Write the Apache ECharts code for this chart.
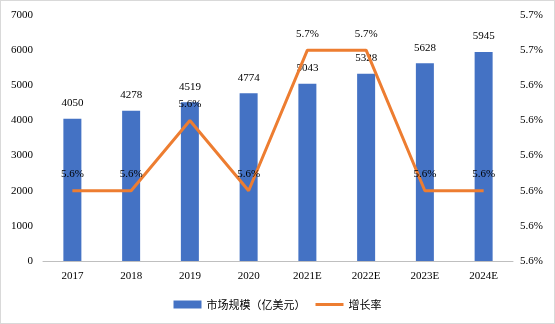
<!DOCTYPE html>
<html>
<head>
<meta charset="utf-8">
<script src="https://cdn.jsdelivr.net/npm/echarts@6/dist/echarts.min.js"></script>
<style>
  html, body { margin: 0; padding: 0; background: #fff; }
  #chart { width: 555px; height: 324px; box-sizing: border-box; border: 1px solid #d9d9d9; }
</style>
</head>
<body>
<div id="chart"></div>
<script>
// Categories and values
const years = ['2017', '2018', '2019', '2020', '2021E', '2022E', '2023E', '2024E'];
const marketSize = [4050, 4278, 4519, 4774, 5043, 5328, 5628, 5945];      // 亿美元
const growthBp = [561, 561, 563, 561, 565, 565, 561, 561];                 // growth in 0.01% units
const leftTicks = { min: 0, max: 7000, interval: 1000 };
const rightTicks = { min: 559, max: 566, interval: 1 };

const numFont = 'Liberation Serif';
const cjkFont = 'Noto Sans CJK SC';

// show basis-point value as a percentage with one decimal, rounding half up
function pct(v) {
  return (Math.round(v / 10) / 10).toFixed(1) + '%';
}

const chart = echarts.init(document.getElementById('chart'), null, { renderer: 'canvas' });
chart.setOption({
  animation: false,
  grid: { left: 42, right: 41, top: 14, bottom: 62, containLabel: false },
  legend: {
    bottom: 8,
    left: 'center',
    itemWidth: 28,
    itemHeight: 8,
    itemGap: 10,
    textStyle: { fontFamily: cjkFont, fontSize: 11, color: '#000' },
    data: [
      { name: '市场规模（亿美元）', icon: 'rect' },
      { name: '增长率', icon: 'path://M0,0H28V3H0Z' }
    ]
  },
  xAxis: {
    type: 'category',
    data: years,
    axisLine: { lineStyle: { color: '#bfbfbf', width: 1 } },
    axisTick: { show: false },
    axisLabel: { fontFamily: numFont, fontSize: 11, color: '#000', margin: 10 }
  },
  yAxis: [
    {
      type: 'value',
      min: leftTicks.min, max: leftTicks.max, interval: leftTicks.interval,
      splitLine: { show: false },
      axisLine: { show: false },
      axisTick: { show: false },
      axisLabel: { fontFamily: numFont, fontSize: 11, color: '#000', margin: 10, formatter: v => String(v) }
    },
    {
      type: 'value',
      min: rightTicks.min, max: rightTicks.max, interval: rightTicks.interval,
      splitLine: { show: false },
      axisLine: { show: false },
      axisTick: { show: false },
      axisLabel: { fontFamily: numFont, fontSize: 11, color: '#000', margin: 7, formatter: pct }
    }
  ],
  series: [
    {
      name: '市场规模（亿美元）',
      type: 'bar',
      data: marketSize,
      barWidth: 18,
      itemStyle: { color: '#4472c4' },
      label: {
        show: true, position: 'top', distance: 10,
        fontFamily: numFont, fontSize: 11, color: '#000'
      }
    },
    {
      name: '增长率',
      type: 'line',
      yAxisIndex: 1,
      data: growthBp,
      symbol: 'circle',
      symbolSize: 0,
      showSymbol: true,
      lineStyle: { color: '#ed7d31', width: 3 },
      itemStyle: { color: '#ed7d31' },
      label: {
        show: true, position: 'top', distance: 11,
        fontFamily: numFont, fontSize: 11, color: '#000',
        formatter: p => pct(p.value)
      },
      z: 3
    }
  ]
});
</script>
</body>
</html>
